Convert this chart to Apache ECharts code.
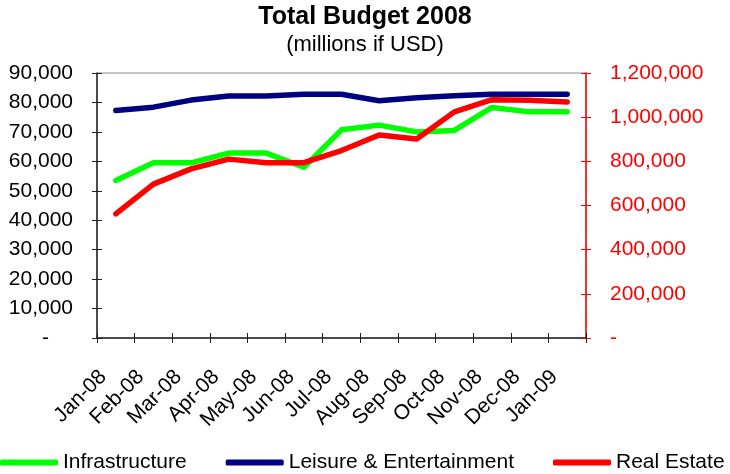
<!DOCTYPE html>
<html>
<head>
<meta charset="utf-8">
<script src="https://cdn.jsdelivr.net/npm/echarts@6/dist/echarts.min.js"></script>
<style>
  html, body { margin: 0; padding: 0; background: #fff; }
  #chart { width: 730px; height: 474px; }
</style>
</head>
<body>
<div id="chart"></div>
<script>
// Monthly budget figures, millions of USD
const months = ['Jan-08', 'Feb-08', 'Mar-08', 'Apr-08', 'May-08', 'Jun-08', 'Jul-08',
                'Aug-08', 'Sep-08', 'Oct-08', 'Nov-08', 'Dec-08', 'Jan-09'];
const infrastructure = [53500, 59500, 59500, 62800, 62800, 58000, 70700,
                        72300, 70000, 70500, 78300, 76800, 76800];
const leisure = [77300, 78400, 80800, 82200, 82200, 82800, 82800,
                 80600, 81600, 82300, 82800, 82800, 82800];
const realEstate = [562000, 697000, 766000, 810000, 794000, 794000, 849000,
                    919000, 901000, 1024000, 1079000, 1077000, 1069000];
const leftTicks = { min: 0, max: 90000, step: 10000 };
const rightTicks = { min: 0, max: 1200000, step: 200000 };

const FONT = '"Liberation Sans", Arial, sans-serif';

function fmtNum(v) {
  return v === 0 ? '-' : v.toLocaleString('en-US');
}

const chart = echarts.init(document.getElementById('chart'));
chart.setOption({
  animation: false,
  backgroundColor: '#ffffff',
  title: {
    text: 'Total Budget 2008',
    subtext: '(millions if USD)',
    left: 'center',
    top: 0,
    padding: [5, 11, 5, 5],
    itemGap: 4,
    textStyle: { fontFamily: FONT, fontSize: 25, fontWeight: 'bold', color: '#000' },
    subtextStyle: { fontFamily: FONT, fontSize: 22, color: '#000' }
  },
  legend: {
    left: 0,
    top: 452,
    width: 730,
    padding: 0,
    icon: 'roundRect',
    itemWidth: 58,
    itemHeight: 6,
    itemGap: 39,
    textStyle: { fontFamily: FONT, fontSize: 21, color: '#000' }
  },
  grid: {
    left: 97, right: 144, top: 73, bottom: 136,
    show: true, borderColor: '#8c8c8c', borderWidth: 1, backgroundColor: 'transparent'
  },
  xAxis: [
    {
      type: 'category',
      data: months,
      position: 'bottom',
      boundaryGap: true,
      axisLine: { onZero: false, lineStyle: { color: '#222', width: 1.5 } },
      axisTick: { show: true, inside: false, length: 5, interval: 0, lineStyle: { color: '#222' } },
      axisLabel: {
        interval: 0, rotate: 45, margin: 23, padding: [0, 18, 0, 0],
        fontFamily: FONT, fontSize: 21, color: '#000'
      },
      splitLine: { show: false }
    },
    {
      // inner half of the crossing tick marks
      type: 'category',
      data: months,
      position: 'bottom',
      boundaryGap: true,
      axisLine: { show: false, onZero: false },
      axisTick: { show: true, inside: true, length: 5, interval: 0, lineStyle: { color: '#222' } },
      axisLabel: { show: false },
      splitLine: { show: false }
    }
  ],
  yAxis: [
    {
      type: 'value',
      position: 'left',
      min: leftTicks.min, max: leftTicks.max, interval: leftTicks.step,
      axisLine: { show: true, onZero: false, lineStyle: { color: '#222', width: 1.5 } },
      axisTick: { show: true, inside: false, length: 5, lineStyle: { color: '#222' } },
      axisLabel: {
        margin: 24,
        fontFamily: FONT, fontSize: 21, color: '#000',
        formatter: v => v === 0 ? '{d|-}' : fmtNum(v),
        rich: { d: { fontFamily: FONT, fontSize: 21, color: '#000', padding: [0, 24, 0, 0] } }
      },
      splitLine: { show: false }
    },
    {
      type: 'value',
      position: 'right',
      min: rightTicks.min, max: rightTicks.max, interval: rightTicks.step,
      axisLine: { show: true, onZero: false, lineStyle: { color: '#ff0000', width: 1.5 } },
      axisTick: { show: true, inside: false, length: 5, lineStyle: { color: '#ff0000' } },
      axisLabel: {
        margin: 24,
        fontFamily: FONT, fontSize: 21, color: '#ff0000',
        formatter: fmtNum
      },
      splitLine: { show: false }
    },
    {
      type: 'value',
      position: 'left',
      min: leftTicks.min, max: leftTicks.max, interval: leftTicks.step,
      axisLine: { show: false },
      axisTick: { show: true, inside: true, length: 5, lineStyle: { color: '#222' } },
      axisLabel: { show: false },
      splitLine: { show: false }
    },
    {
      type: 'value',
      position: 'right',
      min: rightTicks.min, max: rightTicks.max, interval: rightTicks.step,
      axisLine: { show: false },
      axisTick: { show: true, inside: true, length: 5, lineStyle: { color: '#ff0000' } },
      axisLabel: { show: false },
      splitLine: { show: false }
    }
  ],
  series: [
    {
      name: 'Infrastructure', type: 'line', data: infrastructure,
      xAxisIndex: 0, yAxisIndex: 0, symbol: 'none',
      itemStyle: { color: '#00ff00' },
      lineStyle: { color: '#00ff00', width: 5.5, cap: 'round', join: 'round' }
    },
    {
      name: 'Leisure & Entertainment', type: 'line', data: leisure,
      xAxisIndex: 0, yAxisIndex: 0, symbol: 'none',
      itemStyle: { color: '#000080' },
      lineStyle: { color: '#000080', width: 5.5, cap: 'round', join: 'round' }
    },
    {
      name: 'Real Estate', type: 'line', data: realEstate,
      xAxisIndex: 0, yAxisIndex: 1, symbol: 'none',
      itemStyle: { color: '#ff0000' },
      lineStyle: { color: '#ff0000', width: 5.5, cap: 'round', join: 'round' }
    }
  ]
});
</script>
</body>
</html>
